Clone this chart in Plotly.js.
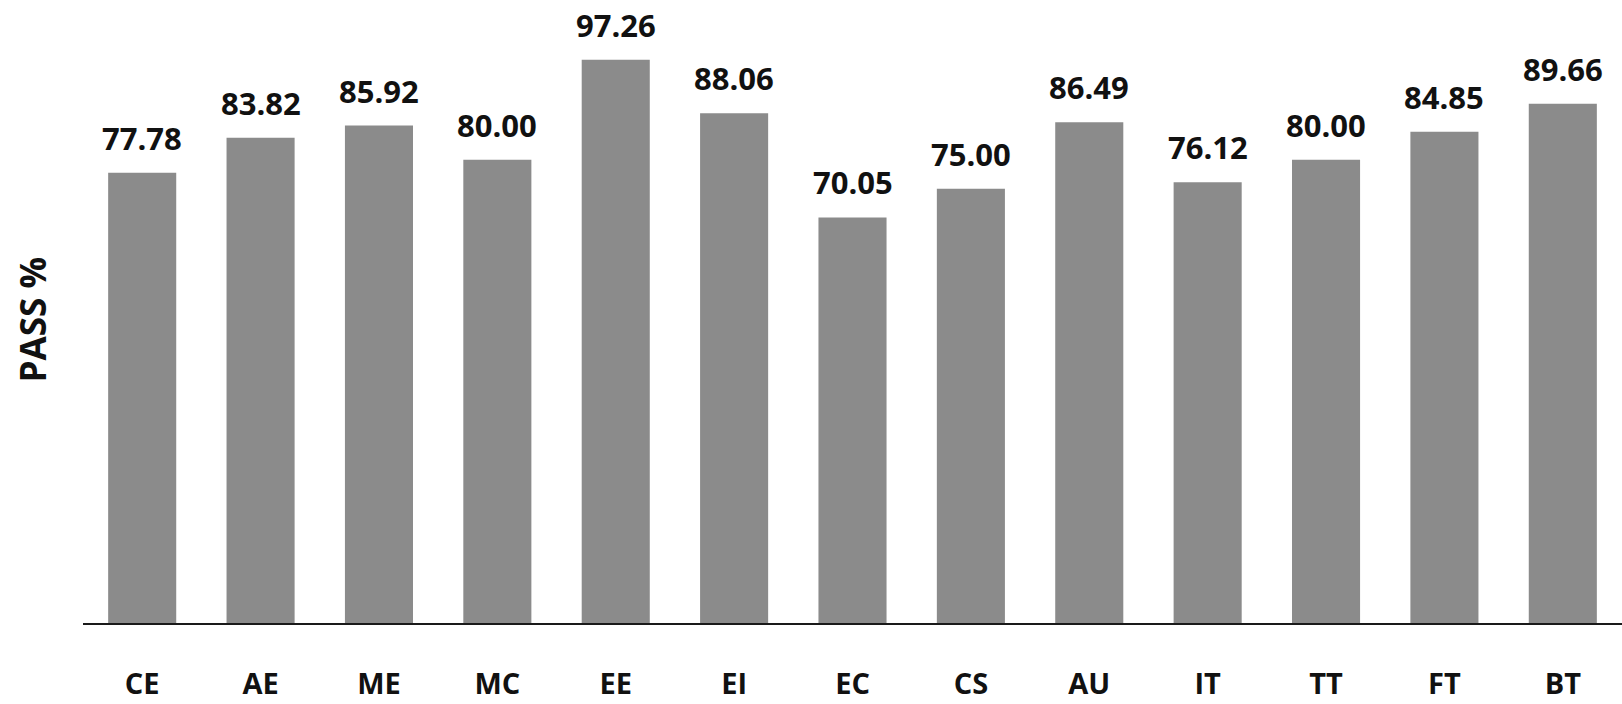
<!DOCTYPE html>
<html>
<head>
<meta charset="utf-8">
<script src="https://cdn.plot.ly/plotly-3.0.1.min.js"></script>
<style>html,body{margin:0;padding:0;background:#fff;}#chart{width:1622px;height:704px;}</style>
</head>
<body>
<div id="chart"></div>
<script>
const categories = ["CE","AE","ME","MC","EE","EI","EC","CS","AU","IT","TT","FT","BT"];
const passPercent = [77.78, 83.82, 85.92, 80.00, 97.26, 88.06, 70.05, 75.00, 86.49, 76.12, 80.00, 84.85, 89.66];
const yTitle = "PASS %";

const FONT = "'Open Sans', Lato, 'DejaVu Sans', sans-serif";

const trace = {
  type: "bar",
  x: categories,
  y: passPercent,
  marker: {color: "#8b8b8b", line: {width: 0}},
  hoverinfo: "x+y"
};

const annotations = categories.map((c, i) => ({
  x: c, y: passPercent[i], xref: "x", yref: "y",
  text: passPercent[i].toFixed(2),
  showarrow: false, yanchor: "bottom", yshift: 12,
  font: {family: FONT, size: 31, color: "#111", weight: 700}
}));
annotations.push({
  xref: "paper", yref: "paper",
  x: -0.033, y: 0.523,
  text: yTitle, textangle: -90, showarrow: false,
  xanchor: "center", yanchor: "middle",
  font: {family: FONT, size: 35, color: "#111", weight: 700}
});

const layout = {
  width: 1622, height: 704,
  margin: {l: 83, r: 0, t: 44, b: 81},
  paper_bgcolor: "#fff", plot_bgcolor: "#fff",
  bargap: 0.425,
  showlegend: false,
  xaxis: {
    type: "category",
    range: [-0.5, 12.5],
    showline: true, linecolor: "#1a1a1a", linewidth: 2,
    ticks: "", showgrid: false, zeroline: false,
    ticklabelstandoff: 34,
    tickfont: {family: FONT, size: 29, color: "#111", weight: 700},
    fixedrange: true
  },
  yaxis: {
    range: [0, 100],
    visible: false, showgrid: false, zeroline: false, fixedrange: true
  },
  annotations: annotations
};

Plotly.newPlot("chart", [trace], layout, {displayModeBar: false, staticPlot: true});
</script>
</body>
</html>
